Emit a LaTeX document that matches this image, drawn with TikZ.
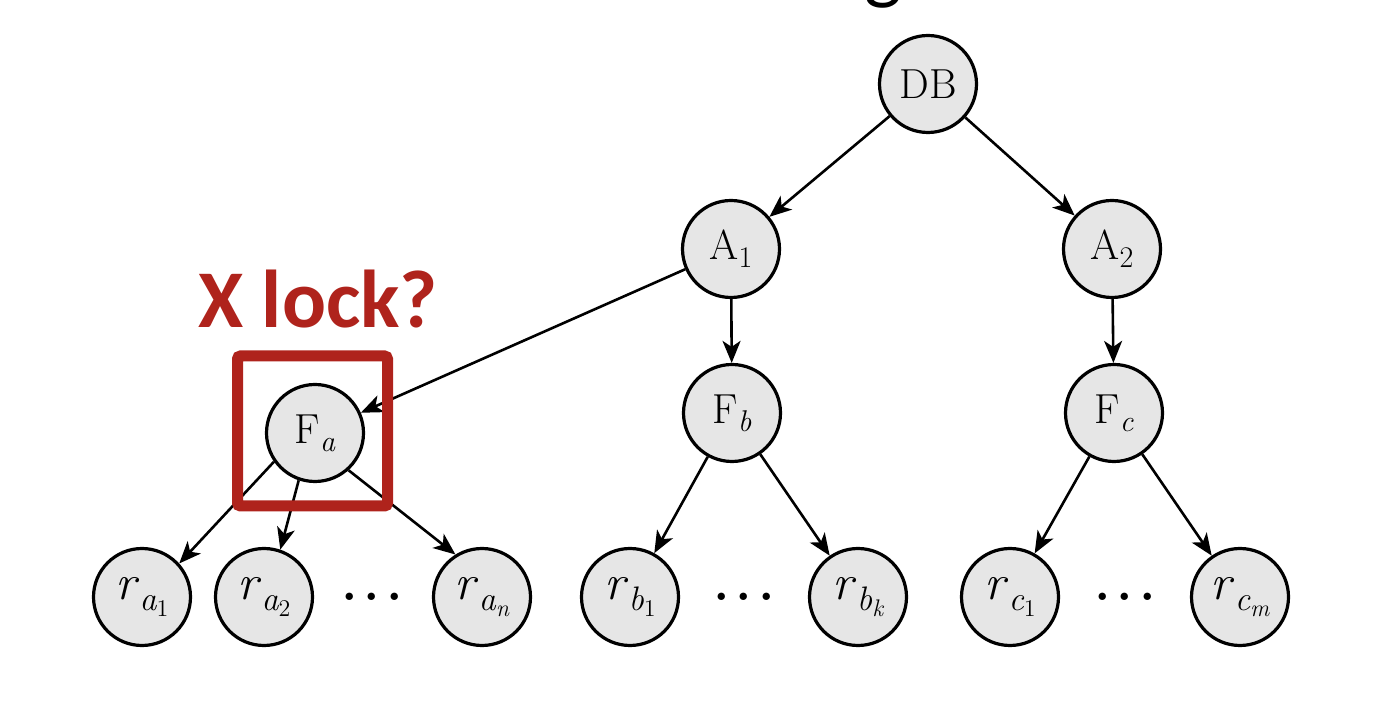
\documentclass[tikz,border=0pt]{standalone}
\usepackage{fontspec}
\usetikzlibrary{arrows.meta}
\newfontfamily\carlito{Carlito}
\definecolor{nodegray}{RGB}{230,230,230}
\definecolor{xred}{RGB}{175,35,28}
\newcommand\msub[1]{\raisebox{-4pt}{\fontsize{15}{15}\selectfont #1}}
\newcommand\leaflab[2]{\textit{r}\raisebox{-5.5pt}{\fontsize{17}{17}\selectfont\itshape #1\raisebox{-3pt}{\fontsize{12}{12}\selectfont\upshape #2}}}
\begin{document}
\begin{tikzpicture}[x=0.5pt,y=-0.5pt,
  tnode/.style={circle,draw=black,line width=1.6pt,fill=nodegray,minimum size=48.5pt,inner sep=0pt,font=\fontsize{21}{25}\selectfont},
  leaf/.style={tnode,font=\fontsize{25}{28}\selectfont},
  dotsnode/.style={anchor=base,inner sep=0pt,font=\fontsize{45}{50}\selectfont},
  arr/.style={line width=1.3pt,-{Stealth[length=11pt,width=9pt,inset=3pt]}},
  lockbox/.style={draw=xred,line width=5.5pt,rounded corners=1.5pt,minimum width=75pt,minimum height=75pt,inner sep=0pt},
]
\useasboundingbox (0,0) rectangle (1386,704);
\clip (0,0) rectangle (1386,704);

\node[font=\carlito\fontsize{40}{40}\selectfont,anchor=base,inner sep=0pt] (title) at (883,-5) {g};

\node[tnode] (DB) at (928,84) {DB};
\node[tnode] (A1) at (731,249) {A\msub{1}};
\node[tnode] (A2) at (1112,249) {A\msub{2}};
\node[tnode] (Fa) at (315,433) {F\msub{\itshape a}};
\node[tnode] (Fb) at (732,413) {F\msub{\itshape b}};
\node[tnode] (Fc) at (1114,413) {F\msub{\itshape c}};

\node[leaf] (ra1) at (142,597) {\leaflab{a}{1}};
\node[leaf] (ra2) at (264,597) {\leaflab{a}{2}};
\node[leaf] (ran) at (482,597) {\leaflab{a}{\itshape n}};
\node[leaf] (rb1) at (630,597) {\leaflab{b}{1}};
\node[leaf] (rbk) at (858,597) {\leaflab{b}{\itshape k}};
\node[leaf] (rc1) at (1010,597) {\leaflab{c}{1}};
\node[leaf] (rcm) at (1240,597) {\leaflab{c}{\itshape m}};

\node[dotsnode] (da) at (372,601) {...};
\node[dotsnode] (db) at (744,601) {...};
\node[dotsnode] (dc) at (1125,601) {...};

\draw[arr] (DB) -- (A1);
\draw[arr] (DB) -- (A2);
\draw[arr] (A1) -- (Fa);
\draw[arr] (A1) -- (Fb);
\draw[arr] (A2) -- (Fc);
\draw[arr] (Fa.215) -- (ra1.42);
\draw[arr] (Fa.251) -- (ra2.71);
\draw[arr] (Fa.312) -- (ran.122);
\draw[arr] (Fb) -- (rb1);
\draw[arr] (Fb) -- (rbk);
\draw[arr] (Fc) -- (rc1);
\draw[arr] (Fc) -- (rcm);

\node[lockbox] (box) at (312.5,431) {};
\node[font=\carlito\bfseries\fontsize{41}{45}\selectfont,text=xred,anchor=base,inner sep=0pt] (xlock) at (318,328) {X lock?};
\end{tikzpicture}
\end{document}
